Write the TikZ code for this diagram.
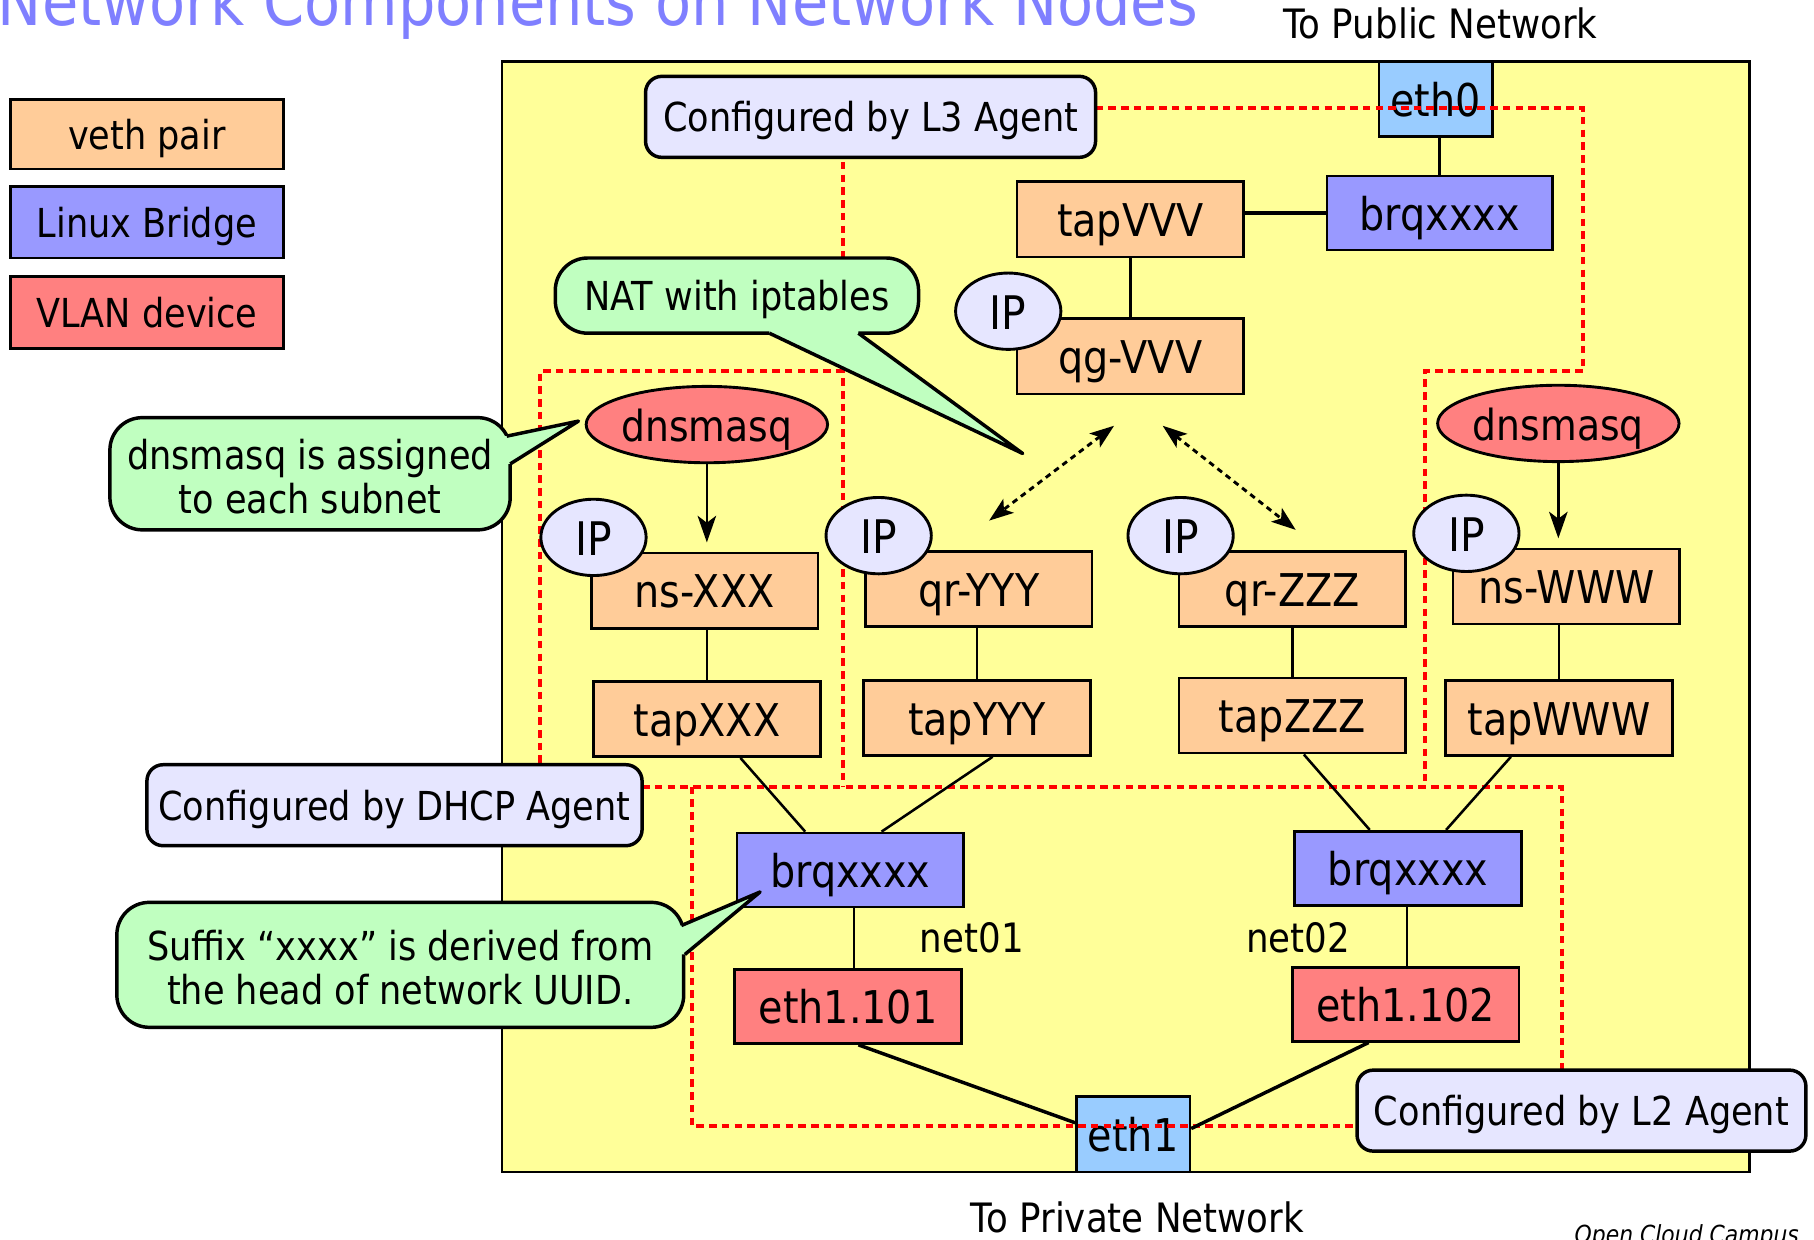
\documentclass[tikz,border=0pt]{standalone}
\usepackage{fontspec}
\setmainfont{DejaVu Sans}[FakeStretch=0.88]
\usetikzlibrary{shapes.geometric,arrows.meta}
\definecolor{yellowbg}{HTML}{FFFF99}
\definecolor{vethc}{HTML}{FFCC99}
\definecolor{bridgec}{HTML}{9999FF}
\definecolor{vlanc}{HTML}{FF8080}
\definecolor{ethc}{HTML}{99CCFF}
\definecolor{ipc}{HTML}{E6E6FF}
\definecolor{agentc}{HTML}{E6E6FF}
\definecolor{greenc}{HTML}{C0FFC0}
\definecolor{titlec}{HTML}{7F7FFF}
\newcommand\fsz[2]{\fontsize{#1}{#2}\selectfont}
\tikzset{
  box/.style={draw, line width=2.3pt, minimum width=196pt, minimum height=65pt, inner sep=0pt, text height=30pt, text depth=0pt, font=\fsz{39pt}{44pt}},
  vethbox/.style={box, fill=vethc},
  bridgebox/.style={box, fill=bridgec},
  vlanbox/.style={box, fill=vlanc},
  ethbox/.style={box, fill=ethc, minimum width=98pt},
  legendbox/.style={box, minimum width=236pt, minimum height=60pt, text height=27pt, font=\fsz{34.5pt}{40pt}},
  ipnode/.style={ellipse, draw, line width=2.5pt, fill=ipc, minimum width=91pt, minimum height=66pt, inner sep=0pt, text height=31pt, text depth=0pt, font=\fsz{40pt}{44pt}},
  dnsnode/.style={ellipse, draw, line width=2.5pt, fill=vlanc, minimum width=196pt, minimum height=66pt, inner sep=0pt, text height=30pt, text depth=0pt, font=\fsz{37pt}{40pt}},
  agentbox/.style={draw, line width=3pt, fill=agentc, rounded corners=14pt, inner sep=0pt, minimum height=70pt, text height=26pt, text depth=0pt, font=\fsz{34.5pt}{40pt}},
  calloutbox/.style={draw, line width=3pt, fill=greenc, rounded corners=28pt, inner sep=0pt, align=center, font=\fsz{34.5pt}{38.5pt}},
  redline/.style={draw=red, line width=3.3pt, dash pattern=on 6.5pt off 4.5pt},
  conn/.style={draw, line width=2.2pt},
  thickconn/.style={draw, line width=3pt},
  lbl/.style={inner sep=0pt, font=\fsz{35pt}{40pt}},
  dblarrow/.style={draw, line width=2.5pt, dash pattern=on 5pt off 4pt, {Stealth[length=21pt,width=15pt,inset=5pt]}-{Stealth[length=21pt,width=15pt,inset=5pt]}},
  sarrow/.style={conn, -{Stealth[length=23pt,width=16pt,inset=6pt]}},
}
\begin{document}
\begin{tikzpicture}[x=1pt,y=-1pt]
\useasboundingbox (0,0) rectangle (1568,1071);
% main area
\draw[fill=yellowbg, line width=2.3pt] (434,53) rectangle (1512,1013);
% legend
\node[legendbox, fill=vethc] (lgveth) at (127,116) {veth pair};
\node[legendbox, fill=bridgec, minimum height=62pt] (lgbridge) at (127,192) {Linux Bridge};
\node[legendbox, fill=vlanc, minimum height=62pt] (lgvlan) at (127,270) {VLAN device};
% physical interfaces
\node[ethbox] (eth0) at (1241,85.5) {eth0};
\node[ethbox] (eth1) at (979.5,980.5) {eth1};
% red region lines
\path[redline] (947,93) -- (1368,93) -- (1368,321) -- (1232,321) -- (1232,680);
\path[redline] (729,140) -- (729,680);
\path[redline] (729,321) -- (467,321) -- (467,680);
\path[redline] (467,680) -- (1350,680) -- (1350,925);
\path[redline] (598,680) -- (598,973) -- (1173,973);
% boxes
\node[bridgebox, minimum width=195pt, minimum height=64pt] (brqT) at (1244.5,184) {brqxxxx};
\node[vethbox] (tapV) at (977,189.5) {tapVVV};
\node[vethbox] (qg) at (977,308) {qg-VVV};
\node[vethbox] (nsX) at (609,510.5) {ns-XXX};
\node[vethbox] (qrY) at (846,509) {qr-YYY};
\node[vethbox] (qrZ) at (1117,509) {qr-ZZZ};
\node[vethbox] (nsW) at (1354,507) {ns-WWW};
\node[vethbox] (tapX) at (611,621.5) {tapXXX};
\node[vethbox] (tapY) at (844.5,620.5) {tapYYY};
\node[vethbox] (tapZ) at (1117,618.5) {tapZZZ};
\node[vethbox] (tapW) at (1347.5,620.5) {tapWWW};
\node[bridgebox, minimum height=64pt] (brqL) at (735,752) {brqxxxx};
\node[bridgebox, minimum height=64pt] (brqR) at (1217,750.5) {brqxxxx};
\node[vlanbox, minimum height=64pt] (e101) at (733,870) {eth1.101};
\node[vlanbox, minimum height=64pt] (e102) at (1215,868) {eth1.102};
% ellipses
\node[ipnode] (ipqg) at (871.5,269) {IP};
\node[ipnode] (ipX) at (513,464.5) {IP};
\node[ipnode] (ipY) at (759.5,463) {IP};
\node[ipnode] (ipZ) at (1020.5,463) {IP};
\node[ipnode] (ipW) at (1267.5,461) {IP};
\node[dnsnode] (dnsL) at (611,367) {dnsmasq};
\node[dnsnode] (dnsR) at (1347,366) {dnsmasq};
% connectors
\path[conn] (brqT.north |- eth0.south) -- (brqT.north);
\path[thickconn] (tapV.east |- brqT.west) -- (brqT.west);
\path[conn] (tapV.south) -- (qg.north);
\path[sarrow, shorten >=8pt] (dnsL.south) -- (dnsL.south |- nsX.north);
\path[sarrow, shorten >=8pt] (dnsR.south) -- (dnsR.south |- nsW.north);
\path[conn] (tapX.north |- nsX.south) -- (tapX.north);
\path[conn] (tapY.north |- qrY.south) -- (tapY.north);
\path[conn] (qrZ.south) -- (tapZ.north);
\path[conn] (tapW.north |- nsW.south) -- (tapW.north);
\path[conn] ([xshift=29pt]tapX.south) -- ([xshift=-39pt]brqL.north);
\path[conn] ([xshift=13.5pt]tapY.south) -- ([xshift=27pt]brqL.north);
\path[conn] ([xshift=10pt]tapZ.south) -- ([xshift=-33pt]brqR.north);
\path[conn] ([xshift=-41.5pt]tapW.south) -- ([xshift=33pt]brqR.north);
\path[conn] ([xshift=3pt]brqL.south) -- ([xshift=3pt]brqL.south |- e101.north);
\path[conn] ([xshift=-1pt]brqR.south) -- ([xshift=-1pt]brqR.south |- e102.north);
\path[thickconn] ([xshift=9pt]e101.south) -- ([yshift=10pt]eth1.west);
\path[thickconn] ([xshift=-32pt]e102.south) -- ([yshift=5pt]eth1.east);
% dotted double arrows
\coordinate (da1) at (963,368);
\coordinate (da2) at (855,450);
\coordinate (db1) at (1005,368);
\coordinate (db2) at (1120,458);
\path[dblarrow] (da1) -- (da2);
\path[dblarrow] (db1) -- (db2);
% agents
\node[agentbox, minimum width=389pt] (l3) at (752.5,101) {Configured by L3 Agent};
\node[agentbox, minimum width=428pt] (dhcp) at (341,696) {Configured by DHCP Agent};
\node[agentbox, minimum width=388pt] (l2) at (1367,960) {Configured by L2 Agent};
% callouts
\node[calloutbox, minimum width=314pt, minimum height=65pt, text height=26pt, text depth=0pt] (nat) at (637,255.5) {NAT with iptables};
\fill[greenc] (665,280) -- (665,288) -- (884,392) -- (742,288) -- (742,280) -- cycle;
\draw[line width=3pt, line join=round] (665,288) -- (884,392) -- (742,288);
\node[calloutbox, minimum width=346pt, minimum height=97pt] (dnsc) at (268,409.5) {\rule{0pt}{31pt}dnsmasq is assigned\\to each subnet};
\fill[greenc] (430,377) -- (438,377) -- (500,364) -- (441,401) -- (430,401) -- cycle;
\draw[line width=3pt, line join=round] (438,377) -- (500,364) -- (441,401);
\node[calloutbox, minimum width=490pt, minimum height=108pt] (sufc) at (346,834) {\rule{0pt}{31pt}Suffix “xxxx” is derived from\\the head of network UUID.};
\fill[greenc] (578,800) -- (589,800) -- (657,771) -- (592,825) -- (578,825) -- cycle;
\draw[line width=3pt, line join=round] (589,800) -- (657,771) -- (592,825);
% labels
\node[lbl, anchor=base west, text=titlec, font=\fsz{58pt}{64pt}] (title) at (-2,22) {Network Components on Network Nodes};
\node[lbl, anchor=base] (pub) at (1245,33) {To Public Network};
\node[lbl, anchor=base] (priv) at (983,1065) {To Private Network};
\node[lbl, anchor=base] (net1) at (840,823) {net01};
\node[lbl, anchor=base] (net2) at (1122,823) {net02};
\node[lbl, anchor=base, font=\fsz{21.5pt}{24pt}\itshape] (occ) at (1458,1075) {Open Cloud Campus};
\end{tikzpicture}
\end{document}
